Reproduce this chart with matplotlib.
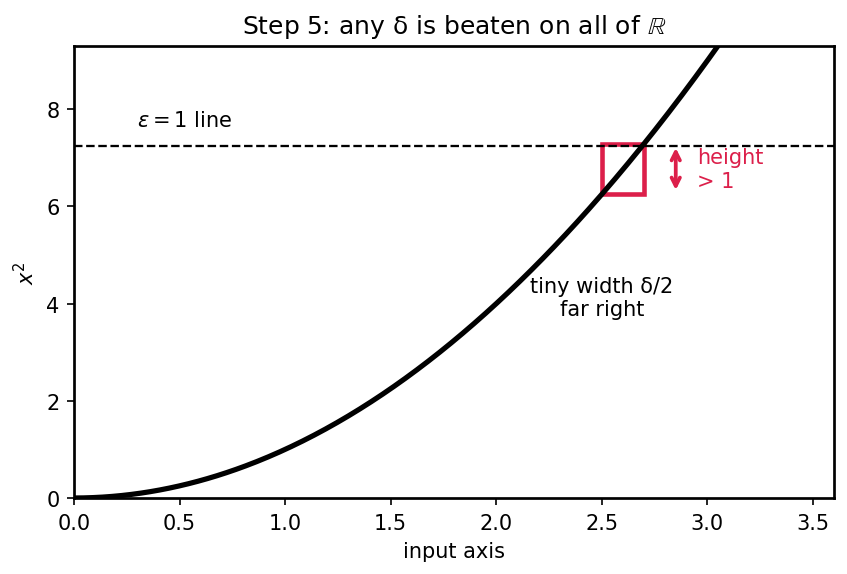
import numpy as np
import matplotlib.pyplot as plt

# curve samples
x_curve = np.linspace(0, 3.6, 400)
y_curve = x_curve ** 2

# the delta box, far right
box_x0 = 2.5
box_x1 = 2.7
eps_level = 7.25
arrow_x = 2.85

fig, ax = plt.subplots(figsize=(5.647, 3.833), dpi=150)
fig.subplots_adjust(left=0.0874, right=0.9847, top=0.9183, bottom=0.1322)

ax.plot(x_curve, y_curve, color="black", linewidth=2.5)
ax.axhline(eps_level, color="black", linestyle="--", linewidth=1.1)

rect = plt.Rectangle((box_x0, box_x0 ** 2), box_x1 - box_x0, box_x1 ** 2 - box_x0 ** 2,
                     fill=False, edgecolor="#dc1f4a", linewidth=2.2)
ax.add_patch(rect)

ax.annotate("", xy=(arrow_x, box_x1 ** 2), xytext=(arrow_x, box_x0 ** 2),
            arrowprops=dict(arrowstyle="<->", color="#dc1f4a", lw=1.8))
ax.text(arrow_x + 0.1, (box_x0 ** 2 + box_x1 ** 2) / 2, "height\n> 1",
        color="#dc1f4a", fontsize=10, va="center", ha="left")

ax.text(0.3, 7.78, r"$\varepsilon = 1$ line", fontsize=10, va="center", ha="left")
ax.text(2.5, 4.13, "tiny width δ/2\nfar right", fontsize=10, ha="center", va="center")

ax.set_xlim(0, 3.6)
ax.set_ylim(0, 9.3)
ax.set_xlabel("input axis", fontsize=10)
ax.set_ylabel(r"$x^2$", fontsize=10)
ax.set_title(r"Step 5: any δ is beaten on all of $\mathbb{R}$", fontsize=12)
ax.tick_params(labelsize=10)
for s in ax.spines.values():
    s.set_linewidth(1.3)

fig.savefig("out.png", dpi=150)
